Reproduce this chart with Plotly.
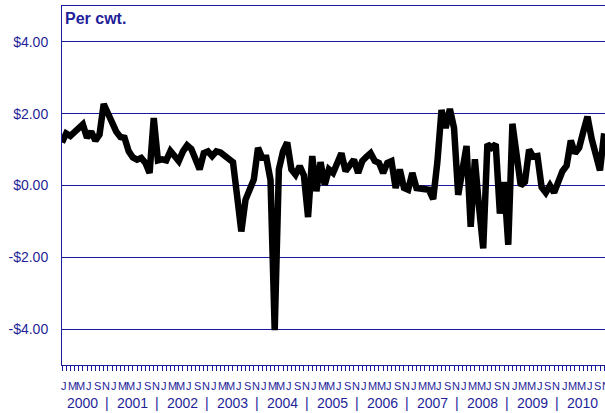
import plotly.graph_objects as go

# Monthly values, $ per cwt, Jan 2000 onward
values = [
    1.20, 1.45, 1.38, 1.50, 1.62, 1.70, 1.33, 1.50, 1.25, 1.42, 2.27, 2.00,   # 2000
    1.80, 1.50, 1.35, 1.33, 0.95, 0.78, 0.72, 0.77, 0.63, 0.35, 1.88, 0.70,   # 2001
    0.73, 0.70, 0.96, 0.85, 0.68, 0.95, 1.12, 1.02, 0.78, 0.45, 0.90, 0.95,   # 2002
    0.82, 0.95, 0.92, 0.82, 0.72, 0.65, -0.30, -1.28, -0.40, -0.15, 0.17, 1.05,  # 2003
    0.77, 0.77, 0.15, -4.03, 0.45, 0.95, 1.20, 0.45, 0.30, 0.54, 0.28, -0.88,  # 2004
    0.82, -0.16, 0.65, 0.02, 0.45, 0.35, 0.63, 0.90, 0.40, 0.55, 0.72, 0.35,  # 2005
    0.68, 0.80, 0.90, 0.68, 0.63, 0.35, 0.63, 0.68, -0.07, 0.45, -0.07, -0.12,  # 2006
    0.35, -0.07, -0.10, -0.10, -0.12, -0.38, 0.65, 2.10, 1.60, 2.13, 1.60, -0.26,  # 2007
    0.45, 1.10, -1.15, 0.73, -0.60, -1.75, 1.15, 1.05, 1.15, -0.78, 0.10, -1.65,  # 2008
    1.72, 0.80, 0.00, 0.10, 1.00, 0.80, 0.82, -0.05, -0.20, 0.00, -0.20, 0.10,  # 2009
    0.40, 0.55, 1.25, 0.90, 1.05, 1.50, 1.92, 1.30, 0.80, 0.42, 1.45,          # 2010
]
years = ["2000", "2001", "2002", "2003", "2004", "2005",
         "2006", "2007", "2008", "2009", "2010"]
month_letters = ["J", "M", "M", "J", "S", "N"]
y_tick_vals = [-4, -2, 0, 2, 4]
y_tick_text = ["-$4.00", "-$2.00", "$0.00", "$2.00", "$4.00"]
unit_label = "Per cwt."

NAVY = "#1f1f9a"
GRID = "#1a1a9c"
FONT = "Liberation Sans, Arial, sans-serif"
X_MAX = 130.2

x_idx = list(range(len(values)))

fig = go.Figure()
fig.add_trace(go.Scatter(
    x=x_idx, y=values, mode="lines",
    line=dict(color="black", width=6.5),
    hoverinfo="skip", showlegend=False,
))

def px(m):
    return m / X_MAX

annotations = [dict(
    text="<b>%s</b>" % unit_label, xref="paper", yref="paper",
    x=0, y=1, xanchor="left", yanchor="top", xshift=1, yshift=-2,
    showarrow=False, font=dict(family=FONT, size=16, color=NAVY),
)]
for i, yr in enumerate(years):
    for k, letter in enumerate(month_letters):
        m = 12 * i + 2 * k + 0.5
        annotations.append(dict(
            text=letter, xref="paper", yref="paper", x=px(m), y=0,
            xanchor="center", yanchor="middle", yshift=-21,
            showarrow=False, font=dict(family=FONT, size=11, color=NAVY),
        ))
    annotations.append(dict(
        text=yr, xref="paper", yref="paper", x=px(12 * i + 4.8), y=0,
        xanchor="center", yanchor="middle", yshift=-38,
        showarrow=False, font=dict(family=FONT, size=14, color=NAVY),
    ))
    if i < len(years) - 1:
        annotations.append(dict(
            text="|", xref="paper", yref="paper", x=px(12 * i + 10.8), y=0,
            xanchor="center", yanchor="middle", yshift=-38,
            showarrow=False, font=dict(family=FONT, size=14, color=NAVY),
        ))

fig.update_layout(
    width=605, height=413,
    margin=dict(l=62, r=0, t=6, b=48),
    paper_bgcolor="white", plot_bgcolor="white",
    annotations=annotations,
    xaxis=dict(
        range=[0, X_MAX], showgrid=False, zeroline=False,
        showline=True, linecolor=GRID, linewidth=1, mirror=True,
        tickmode="array", tickvals=list(range(0, 132)),
        ticks="outside", ticklen=5, tickcolor=GRID, tickwidth=1,
        showticklabels=False,
    ),
    yaxis=dict(
        range=[-5, 5], showgrid=True, gridcolor=GRID, gridwidth=1,
        zeroline=False, showline=True, linecolor=GRID, linewidth=1,
        tickmode="array", tickvals=y_tick_vals, ticktext=y_tick_text,
        ticks="", ticklabelstandoff=10,
        tickfont=dict(family=FONT, size=14, color=NAVY),
    ),
)

fig.write_html("out.html", config={"displayModeBar": False},
               post_script="document.body.style.margin='0';")
